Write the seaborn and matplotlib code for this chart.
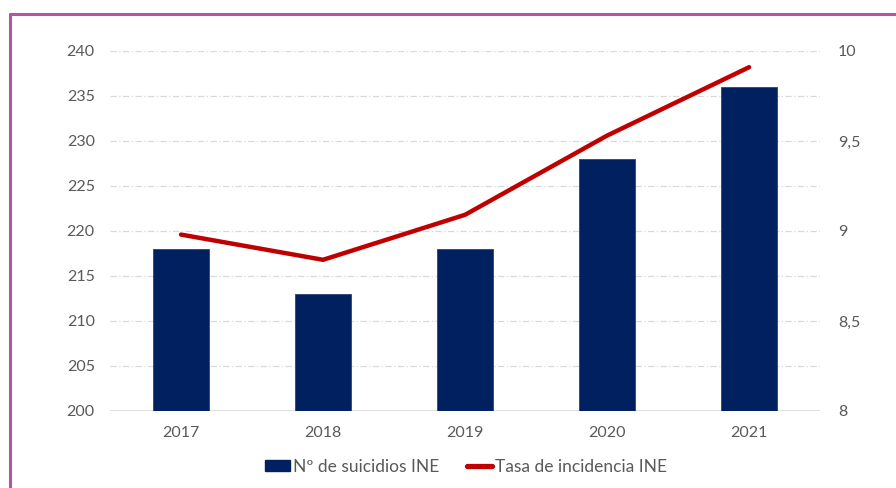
import matplotlib
matplotlib.use("Agg")
import matplotlib.pyplot as plt
from matplotlib.patches import Patch
from matplotlib.lines import Line2D
import seaborn as sns
import pandas as pd

years = ["2017", "2018", "2019", "2020", "2021"]
suicidios = [218, 213, 218, 228, 236]
tasa = [8.98, 8.84, 9.09, 9.53, 9.91]

left_ticks = [200, 205, 210, 215, 220, 225, 230, 235, 240]
right_ticks = [8, 8.5, 9, 9.5, 10]
right_labels = ["8", "8,5", "9", "9,5", "10"]

NAVY = "#002060"
RED = "#C00000"
TXT = "#595959"
GRID = "#D9D9D9"
FRAME = "#B455A0"

sns.set_theme(style="white")
plt.rcParams["font.family"] = ["Lato", "DejaVu Sans"]

df = pd.DataFrame({"year": years, "n": suicidios, "tasa": tasa})

fig = plt.figure(figsize=(8.96, 4.88), dpi=100)
ax = fig.add_axes([0.1228, 0.1578, 0.7925, 0.7377])

sns.barplot(data=df, x="year", y="n", color=NAVY, width=0.395, saturation=1,
            ax=ax, zorder=3, edgecolor="#2A4478", linewidth=0.6)
ax.set_ylim(200, 240)
ax.set_yticks(left_ticks)
ax.set_xlim(-0.5, len(years) - 0.5)
ax.set_xlabel("")
ax.set_ylabel("")
for y in left_ticks[1:]:
    ax.axhline(y, color=GRID, lw=0.9, ls=(0, (5, 2, 1, 2)), zorder=0)
for s in ax.spines.values():
    s.set_visible(False)
ax.axhline(200, color=GRID, lw=1.2, zorder=1)
ax.tick_params(axis="y", length=0, pad=11, labelsize=11.5, labelcolor=TXT)
ax.tick_params(axis="x", length=0, pad=11, labelsize=11.5, labelcolor=TXT)

ax2 = ax.twinx()
sns.lineplot(data=df, x="year", y="tasa", color=RED, lw=3.2, ax=ax2,
             solid_capstyle="round", zorder=4)
ax2.set_ylim(8, 10)
ax2.set_yticks(right_ticks)
ax2.set_yticklabels(right_labels)
ax2.set_ylabel("")
ax2.set_xlabel("")
for s in ax2.spines.values():
    s.set_visible(False)
ax2.tick_params(axis="y", length=0, pad=13, labelsize=11.5, labelcolor=TXT)

handles = [Patch(facecolor=NAVY, edgecolor=NAVY),
           Line2D([0], [0], color=RED, lw=3.8, solid_capstyle="round")]
fig.legend(handles, ["Nº de suicidios INE", "Tasa de incidencia INE"],
           loc="center", bbox_to_anchor=(0.52, 0.043), ncol=2, frameon=False,
           fontsize=12.5, labelcolor=TXT, handlelength=1.45, handletextpad=0.15,
           columnspacing=1.6, handleheight=0.6)

# outer frame
fig.add_artist(Line2D([9.5 / 896, 1.0], [1 - 13.5 / 488] * 2, color=FRAME,
                      lw=2.2, transform=fig.transFigure))
fig.add_artist(Line2D([9.5 / 896] * 2, [0, 1 - 13.5 / 488], color=FRAME,
                      lw=2.2, transform=fig.transFigure))

fig.savefig("out.png", dpi=100, facecolor="white")
